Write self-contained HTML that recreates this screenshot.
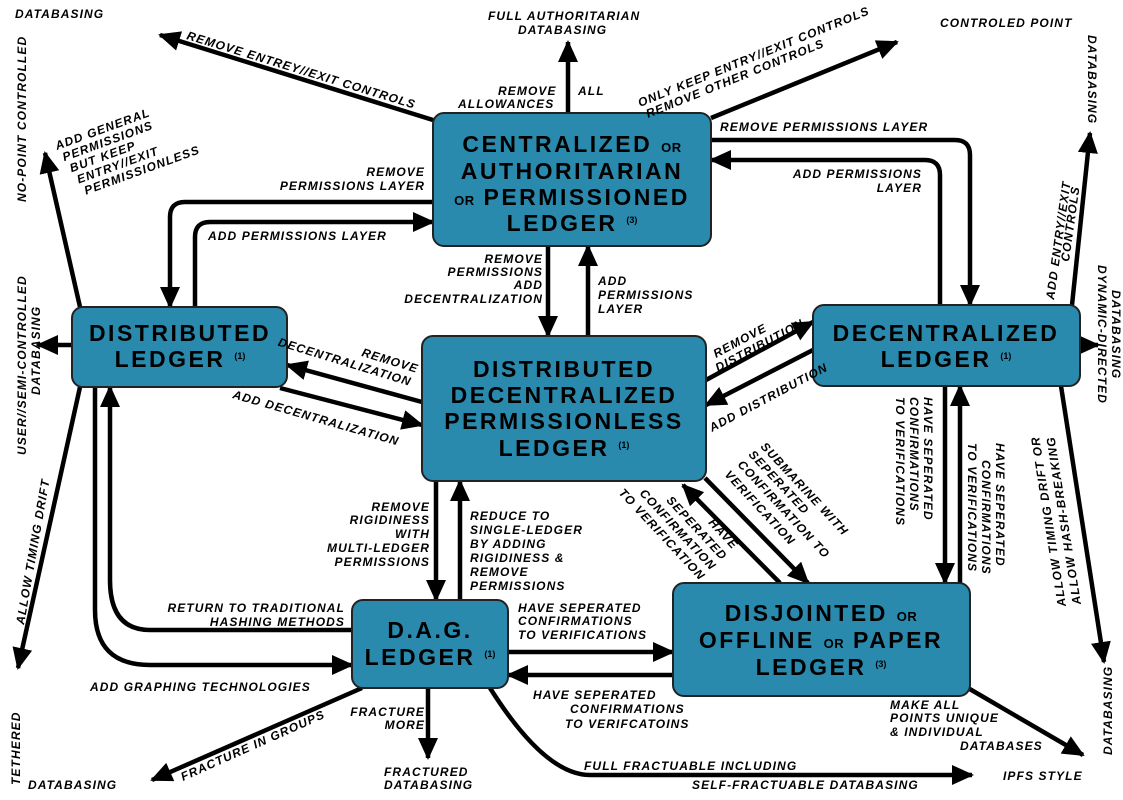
<!DOCTYPE html>
<html><head><meta charset="utf-8"><style>
html,body{margin:0;padding:0;background:#fff}
svg{display:block}
.l{font-family:"Liberation Sans",sans-serif;font-style:italic;font-weight:bold;font-size:12px;fill:#000;letter-spacing:1.1px}
.n{font-family:"Liberation Sans",sans-serif;font-weight:bold;font-size:23px;fill:#000;letter-spacing:2.5px;text-anchor:middle}
.s{font-size:13px;letter-spacing:0.5px}
.sup{font-size:9px;letter-spacing:0}
.box{fill:#2a8aae;stroke:#222;stroke-width:2}
.a{fill:none;stroke:#000;stroke-width:4.5;marker-end:url(#ah)}
</style></head><body>
<svg width="1123" height="800" viewBox="0 0 1123 800" xmlns="http://www.w3.org/2000/svg">
<defs><marker id="ah" markerUnits="userSpaceOnUse" markerWidth="22" markerHeight="20" refX="20" refY="10" orient="auto"><path d="M0,0 L22,10 L0,20 z" fill="#000"/></marker></defs>

<!-- arrows -->
<path class="a" d="M433,120 L160,35"/>
<path class="a" d="M568,113 L568,42"/>
<path class="a" d="M711,118 L897,42"/>
<path class="a" d="M711,140 L955,140 Q970,140 970,155 L970,305"/>
<path class="a" d="M940,305 L940,175 Q940,160 925,160 L711,160"/>
<path class="a" d="M433,202 L185,202 Q170,202 170,217 L170,307"/>
<path class="a" d="M195,307 L195,237 Q195,222 210,222 L433,222"/>
<path class="a" d="M548,246 L548,336"/>
<path class="a" d="M588,336 L588,246"/>
<path class="a" d="M422,402 L287,365"/>
<path class="a" d="M280,388 L422,425"/>
<path class="a" d="M706,380 L813,322"/>
<path class="a" d="M813,350 L706,405"/>
<path class="a" d="M72,345 L38,345"/>
<path class="a" d="M80,307 L45,153"/>
<path class="a" d="M80,387 L18,668"/>
<path class="a" d="M1072,305 L1090,133"/>
<path class="a" d="M1080,345 L1098,345"/>
<path class="a" d="M1061,386 L1104,662"/>
<path class="a" d="M945,386 L945,583"/>
<path class="a" d="M960,583 L960,386"/>
<path class="a" d="M705,478 L808,583"/>
<path class="a" d="M780,583 L683,485"/>
<path class="a" d="M436,481 L436,600"/>
<path class="a" d="M460,600 L460,481"/>
<path class="a" d="M352,630 L150,630 Q110,630 110,580 L110,387"/>
<path class="a" d="M95,387 L95,610 Q95,665 150,665 L352,665"/>
<path class="a" d="M508,652 L673,652"/>
<path class="a" d="M673,675 L508,675"/>
<path class="a" d="M362,688 L152,780"/>
<path class="a" d="M428,688 L428,758"/>
<path class="a" d="M490,688 Q545,775 590,775 L972,775"/>
<path class="a" d="M968,688 L1083,755"/>

<!-- boxes -->
<rect class="box" x="433" y="113" width="278" height="133" rx="11"/>
<rect class="box" x="72" y="307" width="215" height="80" rx="11"/>
<rect class="box" x="422" y="336" width="284" height="145" rx="11"/>
<rect class="box" x="813" y="305" width="267" height="81" rx="11"/>
<rect class="box" x="352" y="600" width="156" height="88" rx="11"/>
<rect class="box" x="673" y="583" width="297" height="113" rx="11"/>

<!-- node text -->
<text class="n" x="572" y="152">CENTRALIZED <tspan class="s">OR</tspan></text>
<text class="n" x="572" y="179">AUTHORITARIAN</text>
<text class="n" x="572" y="205"><tspan class="s">OR</tspan> PERMISSIONED</text>
<text class="n" x="572" y="231">LEDGER <tspan class="sup" dy="-8">(3)</tspan></text>
<text class="n" x="180" y="341">DISTRIBUTED</text>
<text class="n" x="180" y="367">LEDGER <tspan class="sup" dy="-8">(1)</tspan></text>
<text class="n" x="564" y="377">DISTRIBUTED</text>
<text class="n" x="564" y="403">DECENTRALIZED</text>
<text class="n" x="564" y="429">PERMISSIONLESS</text>
<text class="n" x="564" y="456">LEDGER <tspan class="sup" dy="-8">(1)</tspan></text>
<text class="n" x="946" y="341">DECENTRALIZED</text>
<text class="n" x="946" y="367">LEDGER <tspan class="sup" dy="-8">(1)</tspan></text>
<text class="n" x="430" y="638">D.A.G.</text>
<text class="n" x="430" y="665">LEDGER <tspan class="sup" dy="-8">(1)</tspan></text>
<text class="n" x="821" y="621">DISJOINTED <tspan class="s">OR</tspan></text>
<text class="n" x="821" y="648">OFFLINE <tspan class="s">OR</tspan> PAPER</text>
<text class="n" x="821" y="675">LEDGER <tspan class="sup" dy="-8">(3)</tspan></text>

<!-- labels -->
<text class="l" x="15" y="18">DATABASING</text>
<text class="l" transform="translate(26,202) rotate(-90)">NO-POINT CONTROLLED</text>
<text class="l" transform="translate(26,455) rotate(-90)">USER//SEMI-CONTROLLED</text>
<text class="l" transform="translate(40,395) rotate(-90)">DATABASING</text>
<text class="l" transform="translate(24,625) rotate(-80)">ALLOW TIMING DRIFT</text>
<text class="l" transform="translate(20,785) rotate(-90)">TETHERED</text>
<text class="l" x="28" y="789">DATABASING</text>
<text class="l" x="488" y="20">FULL AUTHORITARIAN</text>
<text class="l" x="518" y="34">DATABASING</text>
<text class="l" x="498" y="95">REMOVE</text><text class="l" x="578" y="95">ALL</text>
<text class="l" x="458" y="108">ALLOWANCES</text>
<text class="l" transform="translate(186,39) rotate(17)">REMOVE ENTREY//EXIT CONTROLS</text>
<text class="l" transform="translate(640,107) rotate(-22)">ONLY KEEP ENTRY//EXIT CONTROLS</text>
<text class="l" transform="translate(648,118) rotate(-22)">REMOVE OTHER CONTROLS</text>
<text class="l" x="940" y="27">CONTROLED POINT</text>
<text class="l" transform="translate(1088,35) rotate(90)">DATABASING</text>
<text class="l" transform="translate(57,150) rotate(-20)"><tspan x="0" dy="0">ADD GENERAL</tspan><tspan x="3" dy="13">PERMISSIONS</tspan><tspan x="6" dy="13">BUT KEEP</tspan><tspan x="9" dy="13">ENTRY//EXIT</tspan><tspan x="12" dy="13">PERMISSIONLESS</tspan></text>
<text class="l" x="425" y="176" text-anchor="end">REMOVE</text>
<text class="l" x="425" y="190" text-anchor="end">PERMISSIONS LAYER</text>
<text class="l" x="208" y="240">ADD PERMISSIONS LAYER</text>
<text class="l" x="720" y="131">REMOVE PERMISSIONS LAYER</text>
<text class="l" x="922" y="178" text-anchor="end">ADD PERMISSIONS</text>
<text class="l" x="922" y="192" text-anchor="end">LAYER</text>
<text class="l" x="543" y="263" text-anchor="end">REMOVE</text>
<text class="l" x="543" y="276" text-anchor="end">PERMISSIONS</text>
<text class="l" x="543" y="289" text-anchor="end">ADD</text>
<text class="l" x="543" y="303" text-anchor="end">DECENTRALIZATION</text>
<text class="l" x="598" y="285">ADD</text>
<text class="l" x="598" y="299">PERMISSIONS</text>
<text class="l" x="598" y="313">LAYER</text>
<text class="l" text-anchor="end" transform="translate(417,373) rotate(17)">REMOVE</text>
<text class="l" text-anchor="end" transform="translate(410,386) rotate(17)">DECENTRALIZATION</text>
<text class="l" transform="translate(232,398) rotate(16)">ADD DECENTRALIZATION</text>
<text class="l" transform="translate(716,358) rotate(-28)">REMOVE</text>
<text class="l" transform="translate(718,372) rotate(-28)">DISTRIBUTION</text>
<text class="l" transform="translate(712,432) rotate(-28)">ADD DISTRIBUTION</text>
<text class="l" transform="translate(1054,300) rotate(-82)">ADD ENTRY//EXIT</text>
<text class="l" transform="translate(1069,262) rotate(-82)">CONTROLS</text>
<text class="l" transform="translate(1098,265) rotate(90)">DYNAMIC-DIRECTED</text>
<text class="l" transform="translate(1112,290) rotate(90)">DATABASING</text>
<text class="l" transform="translate(1066,606) rotate(-99)">ALLOW TIMING DRIFT OR</text>
<text class="l" transform="translate(1081,604) rotate(-99)">ALLOW HASH-BREAKING</text>
<text class="l" transform="translate(924,397) rotate(90)">HAVE SEPERATED</text>
<text class="l" transform="translate(910,397) rotate(90)">CONFIRMATIONS</text>
<text class="l" transform="translate(896,397) rotate(90)">TO VERIFICATIONS</text>
<text class="l" transform="translate(996,443) rotate(90)">HAVE SEPERATED</text>
<text class="l" transform="translate(982,460) rotate(90)">CONFIRMATIONS</text>
<text class="l" transform="translate(968,443) rotate(90)">TO VERIFICATIONS</text>
<text class="l" transform="translate(760,447) rotate(47)">SUBMARINE WITH</text>
<text class="l" transform="translate(748,455) rotate(47)">SEPERATED</text>
<text class="l" transform="translate(737,465) rotate(47)">CONFIRMATION TO</text>
<text class="l" transform="translate(724,475) rotate(47)">VERIFICATION</text>
<text class="l" text-anchor="end" transform="translate(733,550) rotate(47)">HAVE</text>
<text class="l" text-anchor="end" transform="translate(722,561) rotate(47)">SEPERATED</text>
<text class="l" text-anchor="end" transform="translate(711,571) rotate(47)">CONFIRMATION</text>
<text class="l" text-anchor="end" transform="translate(700,581) rotate(47)">TO VERIFICATION</text>
<text class="l" x="430" y="511" text-anchor="end">REMOVE</text>
<text class="l" x="430" y="524" text-anchor="end">RIGIDINESS</text>
<text class="l" x="430" y="538" text-anchor="end">WITH</text>
<text class="l" x="430" y="552" text-anchor="end">MULTI-LEDGER</text>
<text class="l" x="430" y="566" text-anchor="end">PERMISSIONS</text>
<text class="l" x="470" y="520">REDUCE TO</text>
<text class="l" x="470" y="534">SINGLE-LEDGER</text>
<text class="l" x="470" y="548">BY ADDING</text>
<text class="l" x="470" y="562">RIGIDINESS &amp;</text>
<text class="l" x="470" y="576">REMOVE</text>
<text class="l" x="470" y="590">PERMISSIONS</text>
<text class="l" x="345" y="612" text-anchor="end">RETURN TO TRADITIONAL</text>
<text class="l" x="345" y="626" text-anchor="end">HASHING METHODS</text>
<text class="l" x="90" y="691">ADD GRAPHING TECHNOLOGIES</text>
<text class="l" x="518" y="612">HAVE SEPERATED</text>
<text class="l" x="518" y="625">CONFIRMATIONS</text>
<text class="l" x="518" y="639">TO VERIFICATIONS</text>
<text class="l" x="533" y="699">HAVE SEPERATED</text>
<text class="l" x="570" y="713">CONFIRMATIONS</text>
<text class="l" x="565" y="728">TO VERIFCATOINS</text>
<text class="l" transform="translate(183,781) rotate(-24)">FRACTURE IN GROUPS</text>
<text class="l" x="425" y="716" text-anchor="end">FRACTURE</text>
<text class="l" x="425" y="729" text-anchor="end">MORE</text>
<text class="l" x="384" y="776">FRACTURED</text>
<text class="l" x="384" y="789">DATABASING</text>
<text class="l" x="584" y="770">FULL FRACTUABLE INCLUDING</text>
<text class="l" x="692" y="789">SELF-FRACTUABLE DATABASING</text>
<text class="l" x="1003" y="780">IPFS STYLE</text>
<text class="l" x="890" y="709">MAKE ALL</text>
<text class="l" x="890" y="722">POINTS UNIQUE</text>
<text class="l" x="890" y="736">&amp; INDIVIDUAL</text>
<text class="l" x="960" y="750">DATABASES</text>
<text class="l" transform="translate(1112,755) rotate(-90)">DATABASING</text>
</svg>
</body></html>
